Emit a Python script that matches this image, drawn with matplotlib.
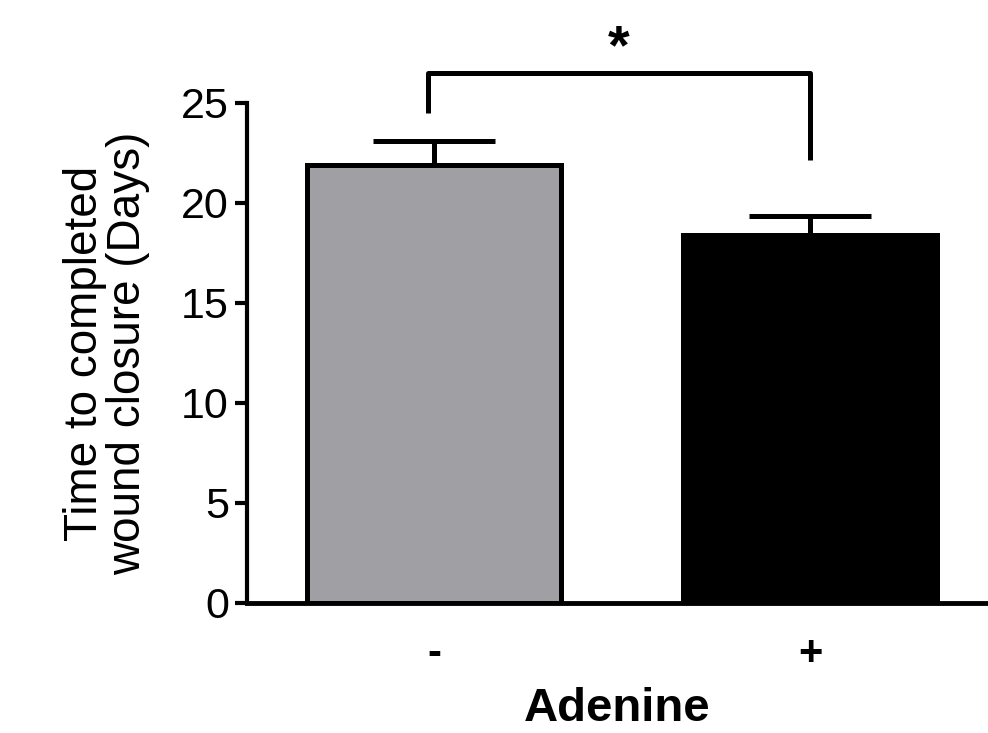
import matplotlib
matplotlib.use('Agg')
from matplotlib import pyplot as plt

# Data
groups = ['-', '+']
means = [21.9, 18.4]
errors = [1.2, 0.95]
colors = ['#a09fa3', '#000000']
sig_label = '*'

plt.rcParams['font.family'] = ['Liberation Sans', 'DejaVu Sans']

fig = plt.figure(figsize=(9.88, 7.33), dpi=100)
ax = fig.add_axes([0.25, 0.1774, 0.75, 0.6821])

x = list(range(len(groups)))
ax.bar(x, means, width=0.675, color=colors, edgecolor='black', linewidth=3.6, zorder=2)
ax.errorbar(x, means, yerr=[[0, 0], errors], fmt='none', ecolor='black',
            elinewidth=3.6, capsize=44, capthick=3.6, zorder=1)

ax.set_xlim(-0.497, 1.473)
ax.set_ylim(0, 25)
ax.set_yticks([0, 5, 10, 15, 20, 25])
ax.set_xticks(x)
ax.set_xticklabels(groups, fontsize=30, fontweight='bold')
ax.tick_params(axis='x', length=0, pad=22)
ax.tick_params(axis='y', length=9, width=3, labelsize=31, pad=4)

for side in ['top', 'right']:
    ax.spines[side].set_visible(False)
ax.spines['left'].set_linewidth(3)
ax.spines['bottom'].set_linewidth(3.5)

ax.set_ylabel('Time to completed\nwound closure (Days)', fontsize=33, labelpad=22,
              linespacing=1.0)
ax.set_xlabel('Adenine', fontsize=34, fontweight='bold', labelpad=10)

# Significance bracket
top = 26.5
ax.plot([-0.015, -0.015, 1.0, 1.0], [24.5, top, top, 22.15], color='black',
        linewidth=3.6, clip_on=False, solid_capstyle='butt')
ax.text(0.49, top - 0.1, sig_label, ha='center', va='bottom', fontsize=40,
        fontweight='bold', clip_on=False)

fig.savefig('out.png', dpi=100)
